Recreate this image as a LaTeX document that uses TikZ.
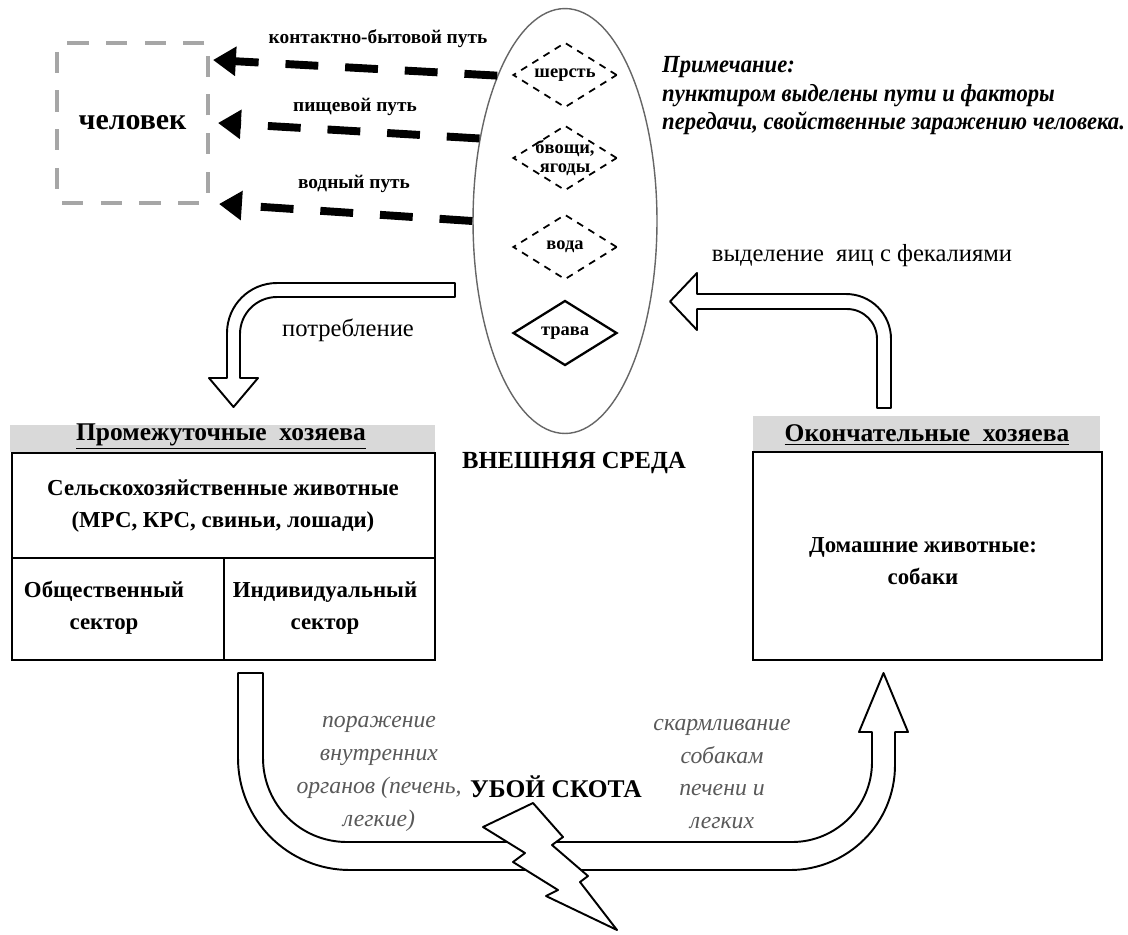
\documentclass[tikz,border=0pt]{standalone}
\usepackage{fontspec}
\setmainfont{Liberation Serif}
\newfontfamily\notefont[FakeStretch=0.92]{Liberation Serif}
\usetikzlibrary{arrows.meta,shapes.geometric}

\tikzset{
  pathlbl/.style={font=\bfseries\fontsize{11}{13}\selectfont},
  hosttxt/.style={font=\bfseries\fontsize{13}{18}\selectfont, align=center},
  headtxt/.style={font=\bfseries\fontsize{14.5}{18}\selectfont},
  flowtxt/.style={font=\fontsize{14}{16}\selectfont},
  slaytxt/.style={font=\itshape\fontsize{13.5}{18.7}\selectfont, text=black!65, align=center},
  factor/.style={diamond, draw, line width=1pt, inner sep=0pt, minimum width=2.08cm, minimum height=1.3cm},
  dtxt/.style={font=\bfseries\fontsize{10.5}{11}\selectfont, align=center, inner sep=0pt},
  route/.style={line width=4.5pt, dash pattern=on 18.7pt off 15.3pt, -{Triangle[length=13pt,width=16pt]}},
  blockarrow/.style={draw, line width=1.1pt, fill=white, line join=round},
  header/.style={fill=black!15}
}

\begin{document}
\begin{tikzpicture}[x=0.02cm, y=-0.02cm]
  \useasboundingbox (0,0) rectangle (1128,934);
  %%%%% ЧЕЛОВЕК %%%%%
  \node[draw=black!35, line width=2.8pt, dash pattern=on 12pt off 10pt, rounded corners=2pt,
        minimum width=3.02cm, minimum height=3.2cm, font=\bfseries\fontsize{17}{20}\selectfont] (man) at (132.5,123) {человек};

  %%%%% ВНЕШНЯЯ СРЕДА %%%%%
  \node[ellipse, draw=black!60, line width=0.8pt, minimum width=3.68cm, minimum height=8.5cm, inner sep=0pt] (env) at (565,221) {};
  \node[factor, dash pattern=on 4pt off 3.5pt, label={[dtxt]center:шерсть}] (wool) at (565,75) {};
  \node[factor, dash pattern=on 4pt off 3.5pt, label={[dtxt]center:{бвощи,\\ягоды}}] (veg) at (565,158) {};
  \node[factor, dash pattern=on 4pt off 3.5pt, label={[dtxt]center:вода}] (water) at (565,247) {};
  \node[factor, line width=1.3pt, label={[dtxt]center:трава}] (grass) at (565,333) {};
  \node[font=\bfseries\fontsize{14}{18}\selectfont] (envT) at (574,463) {ВНЕШНЯЯ СРЕДА};

  %%%%% ПУТИ %%%%%
  \coordinate (tipA) at (213,60);
  \coordinate (tipB) at (218,123);
  \coordinate (tipC) at (219,204);
  \draw[route] (env.115) -- (tipA);
  \draw[route] (env.136) -- (tipB);
  \draw[route] (env.180) -- (tipC);
  \node[pathlbl] (lblA) at (378,39) {контактно-бытовой путь};
  \node[pathlbl] (lblB) at (355,107) {пищевой путь};
  \node[pathlbl] (lblC) at (354,184) {водный путь};

  %%%%% ПРИМЕЧАНИЕ %%%%%
  \node[anchor=west, align=left, font=\notefont\bfseries\itshape\fontsize{14}{16.2}\selectfont] (note) at (656,96)
    {Примечание:\\пунктиром выделены пути и факторы\\передачи, свойственные заражению человека.};

  %%%%% ПОТРЕБЛЕНИЕ %%%%%
  \draw[blockarrow] (455,283) -- (277,283) to[out=180,in=90] (227,333) -- (227,378) -- (209,378)
    -- (233.5,407) -- (258,378) -- (240,378) -- (240,334) to[out=90,in=180] (277,297) -- (455,297) -- cycle;
  \node[flowtxt] (eatT) at (348,330) {потребление};

  %%%%% ВЫДЕЛЕНИЕ %%%%%
  \draw[blockarrow] (877,408) -- (877,339) to[out=90,in=0] (847,309) -- (697,309) -- (697,330)
    -- (670,301.5) -- (697,273) -- (697,294) -- (846,294) to[out=0,in=90] (891,339) -- (891,408) -- cycle;
  \node[flowtxt] (eggT) at (862,256) {выделение\ \ яиц с фекалиями};

  %%%%% ПРОМЕЖУТОЧНЫЕ ХОЗЯЕВА %%%%%
  \fill[header] (10,425) rectangle (435,452);
  \node[headtxt] (interT) at (221,437) {\underline{Промежуточные\ \ хозяева}};
  \draw[line width=1.2pt] (12,453) rectangle (435,660);
  \draw[line width=1.2pt] (12,558) -- (435,558);
  \draw[line width=1.2pt] (224,558) -- (224,660);
  \node[hosttxt] (farm) at (223,506) {Сельскохозяйственные животные\\(МРС, КРС, свиньи, лошади)};
  \node[hosttxt] (pub) at (104,608) {Общественный\\сектор};
  \node[hosttxt] (priv) at (325,608) {Индивидуальный\\сектор};

  %%%%% ОКОНЧАТЕЛЬНЫЕ ХОЗЯЕВА %%%%%
  \fill[header] (753,416) rectangle (1100,452);
  \node[headtxt] (finalT) at (927,435) {\underline{Окончательные\ \ хозяева}};
  \draw[line width=1.2pt] (753,452) rectangle (1102,660);
  \node[hosttxt] (dogs) at (923,561) {Домашние животные:\\собаки};

  %%%%% УБОЙ СКОТА %%%%%
  \draw[blockarrow] (238,673) -- (238,758) to[out=270,in=180] (350,870) -- (790,870) to[out=0,in=270] (895,765)
    -- (895,732) -- (908,732) -- (883.5,673) -- (859,732) -- (872,732) -- (872,762) to[out=270,in=0] (792,842)
    -- (347,842) to[out=180,in=270] (263,758) -- (263,673) -- cycle;
  \draw[blockarrow] (533,803) -- (483,827) -- (525,853) -- (513,862) -- (558,890) -- (546,896) -- (617,930)
    -- (580,882) -- (588,876) -- (552,845) -- (563,837) -- cycle;
  \node[slaytxt] (lesT) at (379,774) {поражение\\внутренних\\органов (печень,\\легкие)};
  \node[slaytxt] (feedT) at (722,774) {скармливание\\собакам\\печени и\\легких};
  \node[font=\bfseries\fontsize{14.5}{18}\selectfont] (slay) at (556,787) {УБОЙ СКОТА};
\end{tikzpicture}
\end{document}
